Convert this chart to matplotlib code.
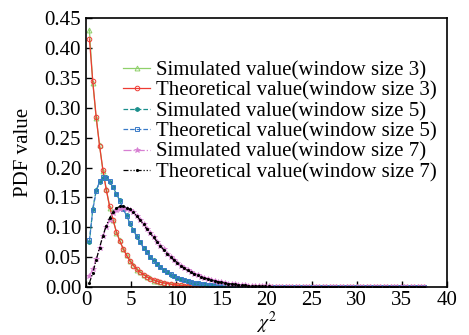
import matplotlib
matplotlib.use('Agg')
import matplotlib.pyplot as plt

plt.rcParams['font.family'] = ['Liberation Serif', 'DejaVu Serif']
plt.rcParams['mathtext.fontset'] = 'stix'

# chi-square bin positions
x = [0.375, 0.75, 1.125, 1.5, 1.875, 2.25, 2.625, 3.0, 3.375, 3.75,
     4.125, 4.5, 4.875, 5.25, 5.625, 6.0, 6.375, 6.75, 7.125, 7.5,
     7.875, 8.25, 8.625, 9.0, 9.375, 9.75, 10.125, 10.5, 10.875, 11.25,
     11.625, 12.0, 12.375, 12.75, 13.125, 13.5, 13.875, 14.25, 14.625, 15.0,
     15.375, 15.75, 16.125, 16.5, 16.875, 17.25, 17.625, 18.0, 18.375, 18.75,
     19.125, 19.5, 19.875, 20.25, 20.625, 21.0, 21.375, 21.75, 22.125, 22.5,
     22.875, 23.25, 23.625, 24.0, 24.375, 24.75, 25.125, 25.5, 25.875, 26.25,
     26.625, 27.0, 27.375, 27.75, 28.125, 28.5, 28.875, 29.25, 29.625, 30.0,
     30.375, 30.75, 31.125, 31.5, 31.875, 32.25, 32.625, 33.0, 33.375, 33.75,
     34.125, 34.5, 34.875, 35.25, 35.625, 36.0, 36.375, 36.75, 37.125, 37.5]

sim3 = [0.430, 0.342, 0.283, 0.238, 0.194, 0.164, 0.133, 0.113, 0.091, 0.078,
        0.063, 0.054, 0.043, 0.037, 0.029, 0.025, 0.021, 0.017, 0.015, 0.011,
        0.010, 0.008, 0.007, 0.006, 0.005, 0.004, 0.003, 0.003, 0.002, 0.002,
        0.002, 0.001, 0.001, 0.001, 0.001, 0.0006, 0.0005, 0.0004, 0.0003, 0.0003,
        0.0002, 0.0002, 0.0002, 0.0001, 0.0001, 0.0001, 0.0001, 0.0, 0.0, 0.0,
        0.0, 0.0, 0.0, 0.0, 0.0, 0.0, 0.0, 0.0, 0.0, 0.0,
        0.0, 0.0, 0.0, 0.0, 0.0, 0.0, 0.0, 0.0, 0.0, 0.0,
        0.0, 0.0, 0.0, 0.0, 0.0, 0.0, 0.0, 0.0, 0.0, 0.0,
        0.0, 0.0, 0.0, 0.0, 0.0, 0.0, 0.0, 0.0, 0.0, 0.0,
        0.0, 0.0, 0.0, 0.0, 0.0, 0.0, 0.0, 0.0, 0.0, 0.0]

theo3 = [0.415, 0.344, 0.285, 0.236, 0.196, 0.162, 0.135, 0.112, 0.092, 0.077,
         0.064, 0.053, 0.044, 0.036, 0.030, 0.025, 0.021, 0.017, 0.014, 0.012,
         0.010, 0.008, 0.007, 0.006, 0.005, 0.004, 0.003, 0.003, 0.002, 0.002,
         0.0015, 0.0012, 0.001, 0.0009, 0.0007, 0.0006, 0.0005, 0.0004, 0.0003, 0.0003,
         0.0002, 0.0002, 0.0002, 0.0001, 0.0001, 0.0001, 0.0001, 0.0, 0.0, 0.0,
         0.0, 0.0, 0.0, 0.0, 0.0, 0.0, 0.0, 0.0, 0.0, 0.0,
         0.0, 0.0, 0.0, 0.0, 0.0, 0.0, 0.0, 0.0, 0.0, 0.0,
         0.0, 0.0, 0.0, 0.0, 0.0, 0.0, 0.0, 0.0, 0.0, 0.0,
         0.0, 0.0, 0.0, 0.0, 0.0, 0.0, 0.0, 0.0, 0.0, 0.0,
         0.0, 0.0, 0.0, 0.0, 0.0, 0.0, 0.0, 0.0, 0.0, 0.0]

sim5 = [0.075, 0.131, 0.162, 0.175, 0.182, 0.185, 0.175, 0.168, 0.155, 0.145,
        0.130, 0.120, 0.106, 0.096, 0.084, 0.076, 0.065, 0.058, 0.050, 0.045,
        0.038, 0.034, 0.029, 0.025, 0.021, 0.019, 0.016, 0.014, 0.012, 0.010,
        0.0088, 0.0073, 0.0065, 0.0053, 0.0047, 0.0039, 0.0034, 0.0030, 0.0024, 0.0021,
        0.0018, 0.0015, 0.0013, 0.0011, 0.0009, 0.0008, 0.0007, 0.0006, 0.0005, 0.0004,
        0.0003, 0.0003, 0.0002, 0.0002, 0.0002, 0.0001, 0.0001, 0.0001, 0.0001, 0.0001,
        0.0, 0.0, 0.0, 0.0, 0.0, 0.0, 0.0, 0.0, 0.0, 0.0,
        0.0, 0.0, 0.0, 0.0, 0.0, 0.0, 0.0, 0.0, 0.0, 0.0,
        0.0, 0.0, 0.0, 0.0, 0.0, 0.0, 0.0, 0.0, 0.0, 0.0,
        0.0, 0.0, 0.0, 0.0, 0.0, 0.0, 0.0, 0.0, 0.0, 0.0]

theo5 = [0.078, 0.129, 0.160, 0.177, 0.184, 0.183, 0.177, 0.167, 0.156, 0.144,
         0.131, 0.119, 0.107, 0.095, 0.085, 0.075, 0.066, 0.058, 0.051, 0.044,
         0.038, 0.033, 0.029, 0.025, 0.022, 0.019, 0.016, 0.014, 0.012, 0.010,
         0.0087, 0.0074, 0.0064, 0.0054, 0.0046, 0.0040, 0.0034, 0.0029, 0.0024, 0.0021,
         0.0018, 0.0015, 0.0013, 0.0011, 0.0009, 0.0008, 0.0007, 0.0006, 0.0005, 0.0004,
         0.0003, 0.0003, 0.0002, 0.0002, 0.0002, 0.0001, 0.0001, 0.0001, 0.0001, 0.0001,
         0.0, 0.0, 0.0, 0.0, 0.0, 0.0, 0.0, 0.0, 0.0, 0.0,
         0.0, 0.0, 0.0, 0.0, 0.0, 0.0, 0.0, 0.0, 0.0, 0.0,
         0.0, 0.0, 0.0, 0.0, 0.0, 0.0, 0.0, 0.0, 0.0, 0.0,
         0.0, 0.0, 0.0, 0.0, 0.0, 0.0, 0.0, 0.0, 0.0, 0.0]

sim7 = [0.018, 0.030, 0.047, 0.065, 0.085, 0.100, 0.113, 0.124, 0.129, 0.131,
        0.132, 0.131, 0.129, 0.125, 0.119, 0.113, 0.105, 0.098, 0.090, 0.083,
        0.076, 0.069, 0.063, 0.056, 0.051, 0.046, 0.041, 0.036, 0.032, 0.029,
        0.025, 0.022, 0.020, 0.017, 0.015, 0.0135, 0.0118, 0.0103, 0.0089, 0.0078,
        0.0068, 0.0059, 0.0051, 0.0045, 0.0039, 0.0033, 0.0029, 0.0025, 0.0022, 0.0019,
        0.0016, 0.0014, 0.0012, 0.0010, 0.0009, 0.0008, 0.0007, 0.0006, 0.0005, 0.0004,
        0.0004, 0.0003, 0.0003, 0.0002, 0.0002, 0.0002, 0.0001, 0.0001, 0.0001, 0.0001,
        0.0, 0.0, 0.0, 0.0, 0.0, 0.0, 0.0, 0.0, 0.0, 0.0,
        0.0, 0.0, 0.0, 0.0, 0.0, 0.0, 0.0, 0.0, 0.0, 0.0,
        0.0, 0.0, 0.0, 0.0, 0.0, 0.0, 0.0, 0.0, 0.0, 0.0]

theo7 = [0.007, 0.024, 0.045, 0.066, 0.086, 0.103, 0.116, 0.126, 0.132, 0.135,
         0.135, 0.133, 0.130, 0.125, 0.119, 0.112, 0.105, 0.097, 0.090, 0.083,
         0.076, 0.069, 0.062, 0.056, 0.051, 0.045, 0.041, 0.036, 0.032, 0.028,
         0.025, 0.022, 0.020, 0.017, 0.015, 0.0135, 0.0118, 0.0103, 0.0089, 0.0078,
         0.0068, 0.0059, 0.0051, 0.0045, 0.0039, 0.0033, 0.0029, 0.0025, 0.0022, 0.0019,
         0.0016, 0.0014, 0.0012, 0.0010, 0.0009, 0.0008, 0.0007, 0.0006, 0.0005, 0.0004,
         0.0004, 0.0003, 0.0003, 0.0002, 0.0002, 0.0002, 0.0001, 0.0001, 0.0001, 0.0001,
         0.0, 0.0, 0.0, 0.0, 0.0, 0.0, 0.0, 0.0, 0.0, 0.0,
         0.0, 0.0, 0.0, 0.0, 0.0, 0.0, 0.0, 0.0, 0.0, 0.0,
         0.0, 0.0, 0.0, 0.0, 0.0, 0.0, 0.0, 0.0, 0.0, 0.0]

labels = ['Simulated value(window size 3)', 'Theoretical value(window size 3)',
          'Simulated value(window size 5)', 'Theoretical value(window size 5)',
          'Simulated value(window size 7)', 'Theoretical value(window size 7)']

fig = plt.figure(figsize=(4.69, 3.35), dpi=100)
ax = fig.add_axes([0.1834, 0.143, 0.7696, 0.803])

lw = 0.9
ax.plot(x, sim3, '-', color='#8fd06a', lw=lw, marker='^', ms=3.5, mfc='none', mew=0.7, label=labels[0])
ax.plot(x, theo3, '-', color='#ee3b33', lw=lw, marker='o', ms=3.3, mfc='none', mew=0.7, label=labels[1])
ax.plot(x, sim5, '--', color='#1b8f8c', lw=lw, marker='h', ms=3.2, mew=0.5, label=labels[2])
ax.plot(x, theo5, '--', color='#3a7bc8', lw=lw, marker='s', ms=3.2, mfc='none', mew=0.7, label=labels[3])
ax.plot(x, sim7, '-.', color='#d77fd2', lw=lw, marker='*', ms=4.2, mew=0.5, label=labels[4])
ax.plot(x, theo7, color='black', lw=lw, ls=(0, (4, 1.5, 1, 1.5, 1, 1.5)), marker='.', ms=2.5, label=labels[5])

ax.set_xlim(0, 40)
ax.set_ylim(0, 0.45)
ax.set_xticks([0, 5, 10, 15, 20, 25, 30, 35, 40])
ax.set_yticks([0.0, 0.05, 0.10, 0.15, 0.20, 0.25, 0.30, 0.35, 0.40, 0.45])
ax.set_yticklabels(['%.2f' % v for v in ax.get_yticks()])
ax.tick_params(direction='in', labelsize=15, length=4, width=1)
ax.tick_params(axis='x', pad=2.5)
for s in ax.spines.values():
    s.set_linewidth(1.2)

ax.set_xlabel(r'$\chi^2$', fontsize=14, labelpad=0)
ax.set_ylabel('PDF value', fontsize=15, labelpad=8)

ax.legend(loc='upper left', bbox_to_anchor=(0.08, 0.873), frameon=False, fontsize=15,
          handlelength=1.3, handletextpad=0.25, labelspacing=0.04, borderaxespad=0)

fig.savefig('out.png', dpi=100)
